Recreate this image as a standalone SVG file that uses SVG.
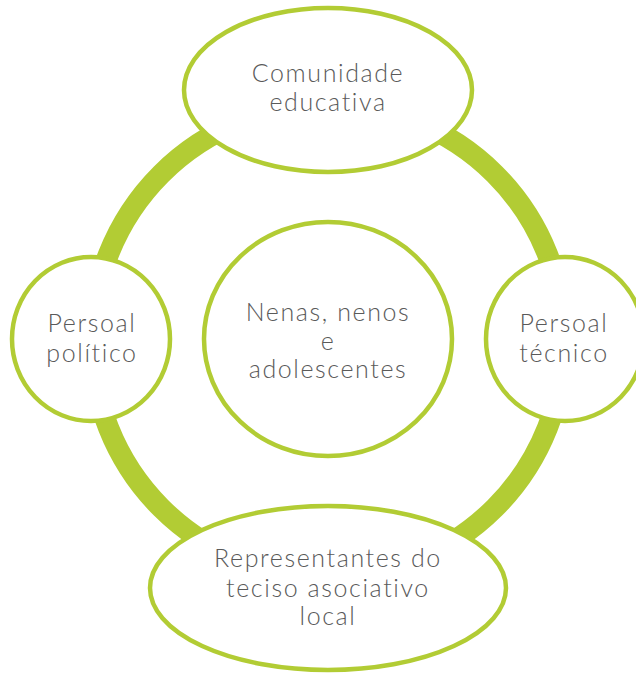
<svg xmlns="http://www.w3.org/2000/svg" width="636" height="673" viewBox="0 0 636 673">
<style>
.node{fill:#ffffff;stroke:#b2cc34;stroke-width:4.5}
.ring{fill:none;stroke:#b2cc34;stroke-width:21}
.t{font-family:Lato,"Open Sans","Liberation Sans",sans-serif;font-weight:300;font-size:25px;letter-spacing:1.6px;fill:#5a5a5a;text-anchor:middle}
</style>
<rect width="636" height="673" fill="#ffffff"/>
<g id="connectors">
<circle class="ring" cx="328" cy="341" r="236"/>
</g>
<g id="n-top">
<ellipse class="node" cx="328" cy="90" rx="144" ry="82"/>
<text class="t" x="328" y="82">Comunidade</text>
<text class="t" x="328" y="111">educativa</text>
</g>
<g id="n-left">
<ellipse class="node" cx="91" cy="339" rx="79" ry="82"/>
<text class="t" x="92" y="332">Persoal</text>
<text class="t" x="92" y="362">político</text>
</g>
<g id="n-right">
<ellipse class="node" cx="565" cy="339" rx="79" ry="82"/>
<text class="t" x="564" y="332">Persoal</text>
<text class="t" x="564" y="362">técnico</text>
</g>
<g id="n-center">
<ellipse class="node" cx="328" cy="339" rx="124" ry="117"/>
<text class="t" x="328" y="321">Nenas, nenos</text>
<text class="t" x="328" y="350">e</text>
<text class="t" x="328" y="378">adolescentes</text>
</g>
<g id="n-bottom">
<ellipse class="node" cx="328" cy="588" rx="178" ry="82"/>
<text class="t" x="328" y="567">Representantes do</text>
<text class="t" x="328" y="597">teciso asociativo</text>
<text class="t" x="328" y="625">local</text>
</g>
</svg>
